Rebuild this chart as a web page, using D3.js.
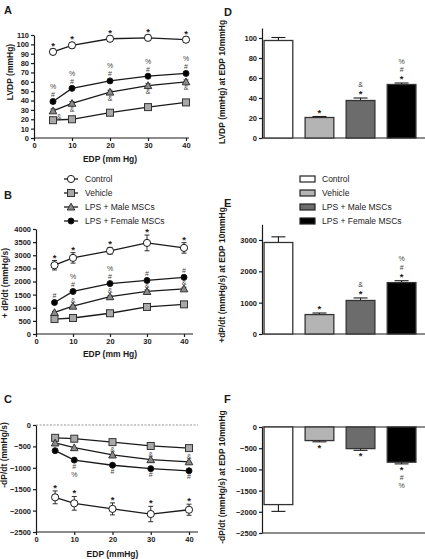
<!DOCTYPE html>
<html><head><meta charset="utf-8">
<script src="https://cdn.jsdelivr.net/npm/d3@7/dist/d3.min.js"></script>
<style>
body{margin:0;background:#fff;}
svg{display:block;font-family:"Liberation Sans",Arial,sans-serif;}
</style></head>
<body><svg id="c" width="425" height="559"></svg>
<script>
// ---------- DATA ----------
const edp = [5, 10, 20, 30, 40];
const groups = ["Control", "Vehicle", "LPS + Male MSCs", "LPS + Female MSCs"];
const xTicks = [0, 10, 20, 30, 40];

// Panel A: LVDP (mmHg)
const lvdpControl = [92, 99, 106, 107, 105];
const lvdpControlErr = [3, 3, 3, 3, 3];
const lvdpVehicle = [19, 20, 27, 33, 38];
const lvdpMale = [29, 37, 49, 56, 60];
const lvdpMaleErr = [2, 2, 2, 2, 2];
const lvdpFemale = [39, 53, 61, 66, 69];
const lvdpFemaleErr = [2, 1, 1, 1, 1];
const lvdpTicks = [0,10,20,30,40,50,60,70,80,90,100,110];

// Panel B: +dP/dt (mmHg/s)
const dpPosControl = [2620, 2900, 3170, 3470, 3280];
const dpPosControlErr = [180, 200, 130, 300, 200];
const dpPosVehicle = [570, 610, 790, 1030, 1130];
const dpPosMale = [820, 1060, 1420, 1620, 1720];
const dpPosMaleErr = [40, 40, 40, 60, 60];
const dpPosFemale = [1200, 1620, 1920, 2040, 2160];
const dpPosFemaleErr = [60, 40, 30, 30, 30];
const dpPosTicks = [0,500,1000,1500,2000,2500,3000,3500,4000];

// Panel C: -dP/dt (mmHg/s)
const dpNegControl = [-1690, -1830, -1960, -2080, -1980];
const dpNegControlErr = [150, 160, 140, 180, 130];
const dpNegVehicle = [-300, -320, -400, -490, -540];
const dpNegMale = [-420, -530, -700, -810, -860];
const dpNegFemale = [-600, -820, -940, -1020, -1070];
const dpNegTicks = [0,-500,-1000,-1500,-2000,-2500];

// Annotations for line panels (top-to-bottom stacks per point)
const annAControl = [["*"],["*"],["*"],["*"],["*"]];
const annAFemale = [["%","#"],["%","#"],["%","#"],["%","#"],["%","#"]];
const annAMale = [["&"],["&"],["&"],["&"],["&"]];
const annBControl = [["*"],["*"],["*"],["*"],["*"]];
const annBFemale = [["#"],["%","#"],["%","#"],["#"],["#"]];
const annBMale = [[],["&"],["&"],["&"],["&"]];
const annCControl = [["*"],["*"],["*"],["*"],["*"]];
const annCMale = [[],[],["&"],["&"],["&"]];
const annCFemale = [[],["#","%"],["#"],["#"],["#"]];

// Bar panels at EDP 10 mmHg
const barLvdp = [97.5, 20.5, 37.5, 53.5];
const barLvdpErr = [3, 1, 2.5, 1.5];
const barLvdpTicks = [0,20,40,60,80,100];
const barDpPos = [2920, 620, 1070, 1640];
const barDpPosErr = [180, 50, 80, 60];
const barDpPosTicks = [0,1000,2000,3000];
const barDpNeg = [-1830, -320, -510, -830];
const barDpNegErr = [160, 30, 40, 40];
const barDpNegTicks = [0,-500,-1000,-1500,-2000,-2500];
const annBar = [[], ["*"], ["&","*"], ["%","#","*"]];
const annBarNeg = [[], ["*"], ["*"], ["*","#","%"]];

// ---------- STYLE ----------
const ink = "#1a1a1a";
const fills = {"Control":"#ffffff","Vehicle":"#b4b4b4","LPS + Male MSCs":"#6c6c6c","LPS + Female MSCs":"#000000"};
const markerFill = {"Control":"#ffffff","Vehicle":"#a8a8a8","LPS + Male MSCs":"#8a8a8a","LPS + Female MSCs":"#000000"};
const markerType = {"Control":"circle","Vehicle":"square","LPS + Male MSCs":"triangle","LPS + Female MSCs":"circle"};
const FF = "'Liberation Sans',Arial,sans-serif";

const svg = d3.select("#c");

function marker(g, type, x, y, fill){
  if(type==="circle"){
    g.append("circle").attr("cx",x).attr("cy",y).attr("r",fill==="#000000"?3:3.6)
      .attr("fill",fill).attr("stroke",ink).attr("stroke-width",1);
  } else if(type==="square"){
    g.append("rect").attr("x",x-3.5).attr("y",y-3.5).attr("width",7).attr("height",7)
      .attr("fill",fill).attr("stroke","#333").attr("stroke-width",1);
  } else {
    g.append("path").attr("d",`M${x},${y-3.8}L${x+3.8},${y+3}L${x-3.8},${y+3}Z`)
      .attr("fill",fill).attr("stroke","#333").attr("stroke-width",1);
  }
}

function annStack(g, x, yStart, items, dir, step){
  items.forEach((t,i)=>{
    const y = dir<0 ? yStart - (items.length-1-i)*step : yStart + i*step;
    const isStar = t==="*";
    g.append("text").attr("x",x).attr("y",y + (isStar?4:2.5))
      .attr("text-anchor","middle").attr("font-size",isStar?9.5:7)
      .attr("font-family",FF)
      .attr("font-weight",isStar?"bold":"normal").attr("fill",isStar?ink:"#444").text(t);
  });
}

function styleAxis(ax){
  ax.selectAll("path,line").attr("stroke",ink).attr("stroke-width",1.2);
  ax.selectAll("text").attr("font-size",7.5).attr("font-weight","bold").attr("fill",ink)
    .attr("font-family",FF);
}

function linePanel(cfg){
  const g = svg.append("g");
  const x = d3.scaleLinear().domain([0,40]).range(cfg.xr);
  const y = d3.scaleLinear().domain(cfg.yd).range(cfg.yr);
  const xEnd = cfg.xEnd;
  if(cfg.zeroDash){
    g.append("line").attr("x1",x(0)).attr("x2",xEnd).attr("y1",y(0)).attr("y2",y(0))
      .attr("stroke","#777").attr("stroke-width",0.8).attr("stroke-dasharray","2,1.5");
  }
  const ya = g.append("g").attr("transform",`translate(${x(0)},0)`)
    .call(d3.axisLeft(y).tickValues(cfg.yt).tickSize(3).tickPadding(2).tickSizeOuter(0).tickFormat(d3.format("d")));
  styleAxis(ya);
  const yb = cfg.yd[0];
  const xa = g.append("g").attr("transform",`translate(0,${y(yb)})`)
    .call(d3.axisBottom(x).tickValues(xTicks).tickSize(3).tickPadding(2).tickSizeOuter(0).tickFormat(d3.format("d")));
  xa.select(".domain").attr("d",`M${x(0)},0H${xEnd}`);
  styleAxis(xa);
  g.append("text").attr("x",(x(0)+x(40))/2).attr("y",cfg.xTitleY).attr("text-anchor","middle")
    .attr("font-size",8.5).attr("font-weight","bold").attr("fill",ink).text(cfg.xTitle);
  g.append("text").attr("transform",`translate(${cfg.yTitleX},${cfg.yTitleY}) rotate(-90)`)
    .attr("text-anchor","middle").attr("font-size",8.5).attr("font-weight","bold").attr("fill",ink).text(cfg.yTitle);
  g.append("text").attr("x",4).attr("y",cfg.letterY).attr("font-size",11).attr("font-weight","bold").attr("fill",ink).text(cfg.letter);

  const line = d3.line().x((d,i)=>x(edp[i])).y(d=>y(d));
  cfg.series.forEach(s=>{
    if(s.err){
      s.vals.forEach((v,i)=>{
        const e = s.err[i], cx = x(edp[i]);
        [v+e, v-e].forEach(ve=>{
          g.append("line").attr("x1",cx).attr("x2",cx).attr("y1",y(v)).attr("y2",y(ve)).attr("stroke",ink).attr("stroke-width",0.9);
          g.append("line").attr("x1",cx-2.5).attr("x2",cx+2.5).attr("y1",y(ve)).attr("y2",y(ve)).attr("stroke",ink).attr("stroke-width",0.9);
        });
      });
    }
    g.append("path").datum(s.vals).attr("d",line).attr("fill","none").attr("stroke",ink).attr("stroke-width",1.3);
  });
  cfg.series.forEach(s=>{
    s.vals.forEach((v,i)=>marker(g, markerType[s.name], x(edp[i]), y(v), markerFill[s.name]));
  });
  cfg.anns.forEach(a=>{
    a.ann.forEach((items,i)=>{
      if(!items.length) return;
      const s = a.series;
      const v = s.vals[i], e = (s.err? s.err[i]:0);
      const cx = x(edp[i]) + (a.dx? a.dx[i]:0);
      if(a.dir<0){
        const top = y(v+e);
        annStack(g, cx, Math.min(top, y(v)-2) - a.gap, items, -1, a.step);
      } else {
        const bot = y(v-e);
        annStack(g, cx, Math.max(bot, y(v)+2) + a.gap, items, 1, a.step);
      }
    });
  });
  return g;
}

function barPanel(cfg){
  const g = svg.append("g");
  const x = d3.scaleBand().domain(groups).range([262,418]).paddingInner(0.3).paddingOuter(0.05);
  const y = d3.scaleLinear().domain(cfg.yd).range(cfg.yr);
  const ya = g.append("g").attr("transform",`translate(262,0)`)
    .call(d3.axisLeft(y).tickValues(cfg.yt).tickSize(3).tickPadding(2).tickSizeOuter(0).tickFormat(d3.format("d")));
  styleAxis(ya);
  cfg.hLines.forEach(v=>{
    g.append("line").attr("x1",262).attr("x2",425).attr("y1",y(v)).attr("y2",y(v)).attr("stroke",ink).attr("stroke-width",1.2);
  });
  cfg.vals.forEach((v,i)=>{
    const name = groups[i];
    const x0 = x(name), bw = x.bandwidth(), cx = x0+bw/2;
    const e = cfg.err[i];
    const ve = v<0 ? v-e : v+e;
    g.append("line").attr("x1",cx).attr("x2",cx).attr("y1",y(v)).attr("y2",y(ve)).attr("stroke",ink).attr("stroke-width",1.1);
    g.append("line").attr("x1",cx-7).attr("x2",cx+7).attr("y1",y(ve)).attr("y2",y(ve)).attr("stroke",ink).attr("stroke-width",1.1);
    const top = Math.min(y(v),y(0)), h = Math.abs(y(v)-y(0));
    g.append("rect").attr("x",x0).attr("y",top).attr("width",bw).attr("height",h)
      .attr("fill",fills[name]).attr("stroke","#333").attr("stroke-width",1.3);
    const items = cfg.ann[i];
    if(items.length){
      if(v>=0) annStack(g, cx, y(ve)-5, items, -1, 8.5);
      else annStack(g, cx, y(ve)+5, items, 1, 8.5);
    }
  });
  g.append("text").attr("transform",`translate(${cfg.yTitleX},${cfg.yTitleY}) rotate(-90)`)
    .attr("text-anchor","middle").attr("font-size",8.5).attr("font-weight","bold").attr("fill",ink).text(cfg.yTitle);
  g.append("text").attr("x",224).attr("y",cfg.letterY).attr("font-size",11).attr("font-weight","bold").attr("fill",ink).text(cfg.letter);
}

// ---------- PANELS ----------
const sCtrlA = {name:groups[0], vals:lvdpControl, err:lvdpControlErr};
const sVehA = {name:groups[1], vals:lvdpVehicle};
const sMaleA = {name:groups[2], vals:lvdpMale, err:lvdpMaleErr};
const sFemA = {name:groups[3], vals:lvdpFemale, err:lvdpFemaleErr};
linePanel({letter:"A", letterY:14, xr:[34,186], xEnd:189, yd:[0,110], yr:[138,35], yt:lvdpTicks,
  xTitle:"EDP (mm Hg)", xTitleY:162, yTitle:"LVDP (mmHg)", yTitleX:13, yTitleY:72,
  series:[sCtrlA,sVehA,sMaleA,sFemA],
  anns:[{series:sCtrlA, ann:annAControl, dir:-1, gap:4, step:8},
        {series:sFemA, ann:annAFemale, dir:-1, gap:5, step:8},
        {series:sMaleA, ann:annAMale, dir:1, gap:4, step:8, dx:[6,0,0,0,0]}]});

const sCtrlB = {name:groups[0], vals:dpPosControl, err:dpPosControlErr};
const sVehB = {name:groups[1], vals:dpPosVehicle};
const sMaleB = {name:groups[2], vals:dpPosMale, err:dpPosMaleErr};
const sFemB = {name:groups[3], vals:dpPosFemale, err:dpPosFemaleErr};
linePanel({letter:"B", letterY:199, xr:[36,184], xEnd:193, yd:[0,4000], yr:[334,229], yt:dpPosTicks,
  xTitle:"EDP (mm Hg)", xTitleY:357, yTitle:"+ dP/dt (mmHg/s)", yTitleX:8, yTitleY:283,
  series:[sCtrlB,sVehB,sMaleB,sFemB],
  anns:[{series:sCtrlB, ann:annBControl, dir:-1, gap:4, step:8},
        {series:sFemB, ann:annBFemale, dir:-1, gap:5, step:8},
        {series:sMaleB, ann:annBMale, dir:-1, gap:4, step:8}]});

const sCtrlC = {name:groups[0], vals:dpNegControl, err:dpNegControlErr};
const sVehC = {name:groups[1], vals:dpNegVehicle};
const sMaleC = {name:groups[2], vals:dpNegMale};
const sFemC = {name:groups[3], vals:dpNegFemale};
linePanel({letter:"C", letterY:403, xr:[36,189], xEnd:198, yd:[-2500,0], yr:[532,425], yt:dpNegTicks, zeroDash:true,
  xTitle:"EDP (mmHg)", xTitleY:557, yTitle:"-dP/dt (mmHg/s)", yTitleX:7, yTitleY:455,
  series:[sVehC,sMaleC,sFemC,sCtrlC],
  anns:[{series:sCtrlC, ann:annCControl, dir:-1, gap:4, step:8},
        {series:sMaleC, ann:annCMale, dir:-1, gap:3, step:8},
        {series:sFemC, ann:annCFemale, dir:1, gap:4, step:8}]});

// Legend left
const legL = svg.append("g");
groups.forEach((name,i)=>{
  const yy = 179 + i*14;
  legL.append("line").attr("x1",64).attr("x2",78).attr("y1",yy).attr("y2",yy).attr("stroke",ink).attr("stroke-width",1.3);
  marker(legL, markerType[name], 71, yy, markerFill[name]);
  legL.append("text").attr("x",85).attr("y",yy+3).attr("font-size",8.5).attr("fill","#222").text(name);
});
// Legend right
const legR = svg.append("g");
groups.forEach((name,i)=>{
  const yy = 179 + i*14;
  legR.append("rect").attr("x",300).attr("y",yy-3).attr("width",15).attr("height",6)
    .attr("fill",fills[name]).attr("stroke","#222").attr("stroke-width",1.2);
  legR.append("text").attr("x",322).attr("y",yy+3).attr("font-size",8.5).attr("fill","#222").text(name);
});

barPanel({letter:"D", letterY:16, yd:[0,110], yr:[138,28], yt:barLvdpTicks, vals:barLvdp, err:barLvdpErr,
  ann:annBar, hLines:[0], yTitle:"LVDP (mmHg) at EDP 10mmHg", yTitleX:225, yTitleY:82});
barPanel({letter:"E", letterY:207, yd:[0,3500], yr:[334,224.3], yt:barDpPosTicks, vals:barDpPos, err:barDpPosErr,
  ann:annBar, hLines:[0], yTitle:"+dP/dt (mmHg/s) at EDP 10mmHg", yTitleX:225, yTitleY:275});
barPanel({letter:"F", letterY:403, yd:[-2500,0], yr:[533,427], yt:barDpNegTicks, vals:barDpNeg, err:barDpNegErr,
  ann:annBarNeg, hLines:[0,-2500], yTitle:"-dP/dt (mmHg/s) at EDP 10mmHg", yTitleX:225, yTitleY:477});
</script></body></html>
